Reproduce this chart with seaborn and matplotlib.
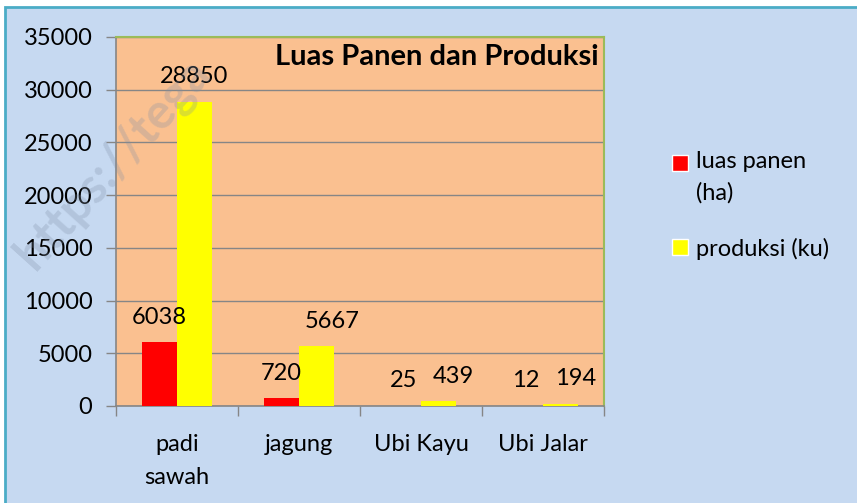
import numpy as np
import pandas as pd
import matplotlib
matplotlib.use('Agg')
import matplotlib.pyplot as plt
import matplotlib.patches as mpatches
from matplotlib.legend_handler import HandlerPatch
import seaborn as sns

crops = ['padi\nsawah', 'jagung', 'Ubi Kayu', 'Ubi Jalar']
luas_panen = [6038, 720, 25, 12]
produksi = [28850, 5667, 439, 194]
series = ['luas panen (ha)', 'produksi (ku)']
legend_labels = ['luas panen\n(ha)', 'produksi (ku)']
colors = ['#FF0000', '#FFFF00']
title = 'Luas Panen dan Produksi'

# horizontal nudges (points) of the data labels, like Excel's overlap avoidance
label_nudge = [[0, 0, 0, 0], [0, 11, 11, 11]]

df = pd.DataFrame({
    'crop': crops * 2,
    'value': luas_panen + produksi,
    'series': [series[0]] * 4 + [series[1]] * 4,
})

sns.set_style('white')
plt.rcParams['font.family'] = ['Lato', 'DejaVu Sans']
plt.rcParams['text.color'] = 'black'
plt.rcParams['xtick.color'] = 'black'
plt.rcParams['ytick.color'] = 'black'

fig = plt.figure(figsize=(8.57, 5.03), dpi=100)
fig.patch.set_facecolor('white')
# outer chart frame
frame = mpatches.Rectangle((5 / 857, -0.1), 1.1, (503 - 7) / 503 + 0.1,
                           transform=fig.transFigure, facecolor='#C6D9F1',
                           edgecolor='#4BACC6', linewidth=2, zorder=-10)
fig.patches.append(frame)

ax = fig.add_axes([116 / 857, 1 - 406 / 503, (604 - 116) / 857, (406 - 37) / 503])
ax.set_facecolor('#FAC090')

sns.barplot(data=df, x='crop', y='value', hue='series', palette=colors,
            width=0.57, gap=0, saturation=1, linewidth=0, ax=ax, legend=False, zorder=3)

ax.set_ylim(0, 35000)
ax.set_xlim(-0.5, 3.5)
ax.set_yticks(np.arange(0, 35001, 5000))
ax.yaxis.grid(True, color='#868686', linewidth=1, zorder=0)
ax.set_axisbelow(True)
ax.set_xlabel('')
ax.set_ylabel('')

for s in ['top', 'right']:
    ax.spines[s].set_color('#9BBB59')
    ax.spines[s].set_linewidth(1.5)
for s in ['left', 'bottom']:
    ax.spines[s].set_color('#868686')
    ax.spines[s].set_linewidth(1.2)

ax.tick_params(axis='y', direction='out', length=7, width=1, color='#868686',
               labelsize=17, pad=10, left=True, labelcolor='black')
ax.set_xticks(np.arange(-0.5, 4, 1), minor=True)
ax.tick_params(axis='x', which='minor', direction='out', length=7, width=1,
               color='#868686', bottom=True)
ax.tick_params(axis='x', which='major', length=0, labelsize=17, pad=20, labelcolor='black')
for lbl in ax.get_xticklabels():
    lbl.set_verticalalignment('top')
    lbl.set_linespacing(1.72)

for i, cont in enumerate(ax.containers):
    for j, bar in enumerate(cont):
        h = bar.get_height()
        ax.annotate(f'{int(h)}', (bar.get_x() + bar.get_width() / 2, h),
                    xytext=(label_nudge[i][j], 18), textcoords='offset points',
                    ha='center', va='center', fontsize=17, zorder=5)

ax.text(0.99, 0.945, title, transform=ax.transAxes, ha='right', va='center',
        fontsize=21, fontweight='bold')

# watermark
fig.text(0.008, 0.45, 'https://tega', rotation=48, fontsize=35, fontweight='bold',
         color='#7F8FA6', alpha=0.28, ha='left', va='bottom', zorder=10)


def top_square(legend, orig_handle, xdescent, ydescent, width, height, fontsize):
    # put the square next to the first text line of a wrapped label
    shift = 0.62 * fontsize if orig_handle.get_label() == 'wrapped' else 0
    return mpatches.Rectangle((-xdescent, -ydescent + shift), width, height)


handles = [mpatches.Patch(facecolor=colors[0], label='wrapped'),
           mpatches.Patch(facecolor=colors[1])]
leg = fig.legend(handles, legend_labels, loc='upper left',
                 bbox_to_anchor=(651 / 857, 1 - 130 / 503),
                 frameon=False, fontsize=17, handlelength=0.66, handleheight=0.66,
                 handletextpad=0.35, labelspacing=1.45,
                 handler_map={mpatches.Patch: HandlerPatch(patch_func=top_square)})
for t in leg.get_texts():
    t.set_linespacing(1.55)

fig.savefig('out.png', dpi=100)
